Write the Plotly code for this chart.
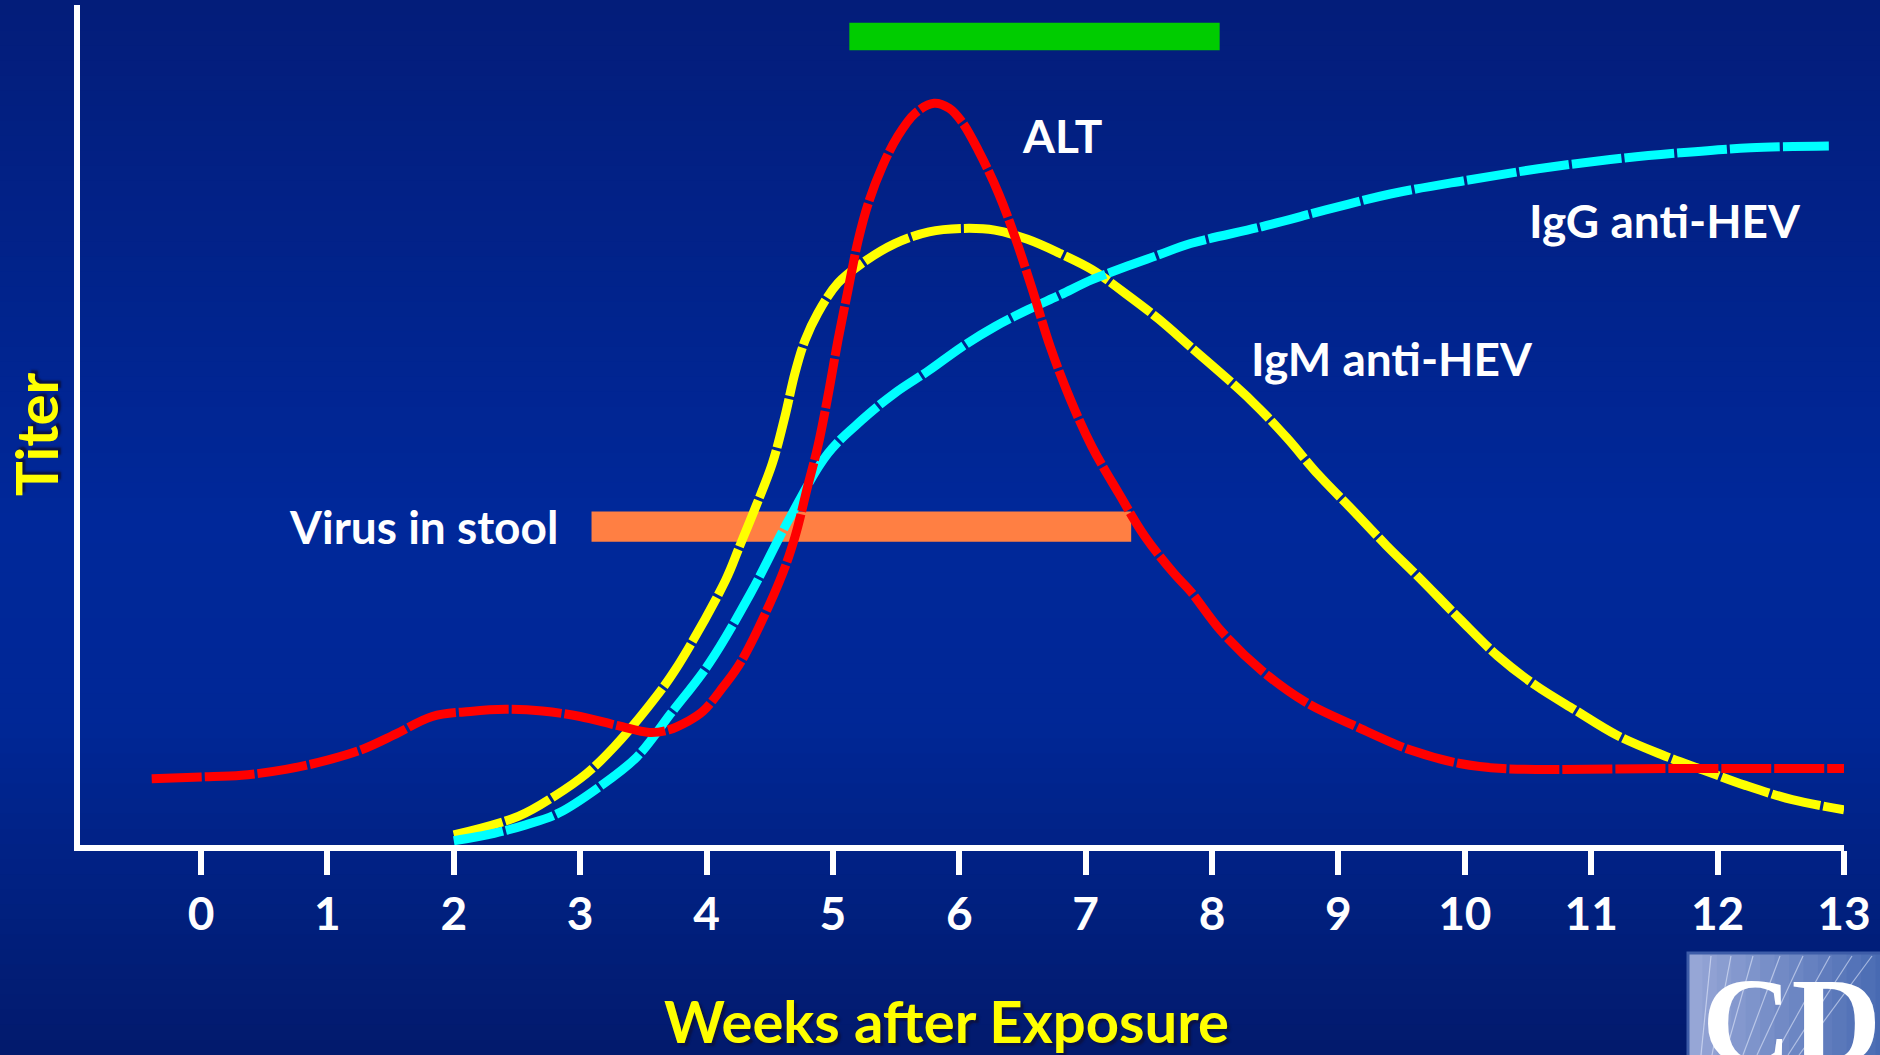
import plotly.graph_objects as go

# ---------------- data ----------------
week_ticks = list(range(0, 14))
week_labels = [str(w) for w in week_ticks]

alt_weeks = [-0.39, 0.0, 0.32, 0.67, 1.0, 1.28, 1.54, 1.83, 2.13, 2.41, 2.70, 3.0, 3.30, 3.55,
             3.70, 3.85, 3.97, 4.13, 4.28, 4.58, 4.70, 4.80, 4.88, 4.96, 5.04, 5.12, 5.20,
             5.28, 5.39, 5.51, 5.65, 5.80, 5.92, 6.02, 6.15, 6.31, 6.44, 6.57, 6.72, 6.88,
             7.05, 7.26, 7.47, 7.70, 7.83, 8.07, 8.39, 8.74, 9.14, 9.57, 9.96, 10.30, 11.6, 13.0]
alt_vals = [7.9, 8.1, 8.3, 9.0, 10.1, 11.4, 13.2, 15.3, 15.9, 16.15, 15.95, 15.3, 14.2, 13.4,
            13.7, 14.7, 15.9, 18.8, 22.0, 31.5, 36.7, 42.7, 47.4, 53.4, 60.1, 66.1, 72.0,
            76.4, 80.75, 84.3, 87.1, 88.3, 87.7, 86.1, 82.7, 77.6, 72.4, 66.5, 59.3, 53.0,
            47.4, 41.9, 36.7, 32.3, 30.2, 25.5, 20.8, 17.0, 14.1, 11.3, 9.7, 9.1, 9.1, 9.1]

igm_weeks = [2.0, 2.51, 2.79, 3.05, 3.27, 3.52, 3.75, 4.15, 4.26, 4.39, 4.52, 4.62,
             4.70, 4.78, 4.88, 5.04, 5.23, 5.49, 5.76, 6.02, 6.28, 6.54, 6.80, 7.05, 7.31,
             7.57, 7.83, 8.31, 8.59, 8.84, 9.12, 9.38, 9.64, 9.96, 10.26, 10.56, 10.88,
             11.20, 11.55, 11.89, 12.22, 12.59, 13.0]
igm_vals = [1.2, 3.4, 5.75, 8.5, 11.7, 16.1, 20.8, 31.5, 35.5, 40.3, 45.4, 51.0,
            56.2, 60.1, 63.3, 66.9, 69.25, 71.6, 73.0, 73.4, 73.2, 72.1, 70.4, 68.5, 65.7,
            62.7, 59.3, 52.9, 48.5, 44.1, 39.75, 35.65, 31.8, 26.9, 22.5, 19.0, 16.0,
            13.1, 10.8, 8.9, 7.1, 5.4, 4.2]

igg_weeks = [2.0, 2.32, 2.57, 2.83, 3.15, 3.45, 3.72, 4.02, 4.35, 4.65, 4.96, 5.23, 5.49,
             5.76, 6.02, 6.28, 6.54, 6.80, 7.05, 7.31, 7.57, 7.83, 8.39, 8.90, 9.41, 10.0,
             10.58, 11.15, 11.70, 12.26, 12.88]
igg_vals = [0.5, 1.4, 2.4, 3.8, 6.9, 10.5, 15.7, 21.6, 30.0, 38.7, 46.6, 50.6, 53.8,
            56.5, 59.3, 61.7, 63.7, 65.5, 67.3, 68.8, 70.2, 71.6, 73.6, 75.6, 77.5, 79.1,
            80.5, 81.6, 82.4, 83.0, 83.2]

virus_weeks = [3.09, 7.36]      # virus in stool (start, end)
virus_titer = [36.1, 39.7]      # band bottom / top
green_weeks = [5.13, 8.06]      # green bar (start, end)
green_titer = [94.6, 97.9]

series_names = ["IgM anti-HEV", "IgG anti-HEV", "ALT"]
label_text = {"ALT": "ALT", "IgG": "IgG anti-HEV", "IgM": "IgM anti-HEV", "virus": "Virus in stool"}
x_title = "Weeks after Exposure"
y_title = "Titer"

# ---------------- styling ----------------
W, H = 1880, 1055
L, R, T, B = 80, 36, 5, 210
PW, PH = W - L - R, H - T - B
FONT = "Lato"
DASH = "50px,3px"
LW = 9
X0_PX = 201                      # pixel of week 0
X_MIN = -(X0_PX - L) / ((W - R - X0_PX) / 13.0)


def px_to_paper(px, py):
    return (px - L) / PW, (H - B - py) / PH


def lerp(c1, c2, t):
    return tuple(round(a + (b - a) * t) for a, b in zip(c1, c2))


fig = go.Figure()

# background gradient (decorative)
stops = [(0, (3, 29, 122)), (520, (0, 40, 154)), (720, (0, 39, 150)), (1055, (2, 26, 108))]
shapes = []
N = 70
for i in range(N):
    y0p = i * H / N
    y1p = (i + 1) * H / N + 1
    ym = (y0p + y1p) / 2
    for (a, ca), (b, cb) in zip(stops[:-1], stops[1:]):
        if a <= ym <= b:
            c = lerp(ca, cb, (ym - a) / (b - a))
            break
    x0, yy0 = px_to_paper(-5, y1p)
    x1, yy1 = px_to_paper(W + 5, y0p)
    shapes.append(dict(type="rect", xref="paper", yref="paper", x0=x0, x1=x1, y0=yy0, y1=yy1,
                       fillcolor="rgb(%d,%d,%d)" % c, line_width=0, layer="below"))

# bars
shapes.append(dict(type="rect", xref="x", yref="y", x0=virus_weeks[0], x1=virus_weeks[1],
                   y0=virus_titer[0], y1=virus_titer[1], fillcolor="#FF7F43", line_width=0,
                   layer="below"))
shapes.append(dict(type="rect", xref="x", yref="y", x0=green_weeks[0], x1=green_weeks[1],
                   y0=green_titer[0], y1=green_titer[1], fillcolor="#00CC00", line_width=0,
                   layer="below"))

# CDC logo box (decorative)
bx0, by0 = px_to_paper(1688, 1062)
bx1, by1 = px_to_paper(1890, 953)
NS = 14
for i in range(NS):
    t = i / (NS - 1)
    c = lerp((150, 166, 214), (72, 106, 178), t)
    xa, _ = px_to_paper(1688 + i * 202 / NS, 0)
    xb, _ = px_to_paper(1688 + (i + 1) * 202 / NS + 1, 0)
    shapes.append(dict(type="rect", xref="paper", yref="paper", x0=xa, x1=xb, y0=by0, y1=by1,
                       fillcolor="rgb(%d,%d,%d)" % c, line_width=0, layer="above"))
shapes.append(dict(type="rect", xref="paper", yref="paper", x0=bx0, x1=bx1, y0=by0, y1=by1,
                   fillcolor="rgba(0,0,0,0)", line=dict(color="#3D5CA8", width=3), layer="above"))
for k, lx in enumerate([1711, 1731, 1753, 1780, 1803, 1830, 1852, 1872]):
    xa, ya = px_to_paper(lx, 956)
    xb, yb = px_to_paper(lx - 10 - k * 9, 1055)
    shapes.append(dict(type="line", xref="paper", yref="paper", x0=xa, y0=ya, x1=xb, y1=yb,
                       line=dict(color="rgba(235,240,255,0.55)", width=1.2), layer="above"))

# curves
fig.add_trace(go.Scatter(x=igm_weeks, y=igm_vals, mode="lines", name=series_names[0],
                         line=dict(color="#FFFF00", width=LW, dash=DASH, shape="spline")))
fig.add_trace(go.Scatter(x=igg_weeks, y=igg_vals, mode="lines", name=series_names[1],
                         line=dict(color="#00FFFF", width=LW, dash=DASH, shape="spline")))
fig.add_trace(go.Scatter(x=alt_weeks, y=alt_vals, mode="lines", name=series_names[2],
                         line=dict(color="#FF0000", width=LW, dash=DASH, shape="spline")))

lab_font = dict(family=FONT, size=46, color="white", weight="bold")
ttl_font = dict(family=FONT, size=58, color="#FFFF00", weight="bold",
                shadow="3px 3px 2px #0A1246")
annotations = [
    dict(x=6.81, y=84.5, xref="x", yref="y", text=label_text["ALT"], showarrow=False,
         xanchor="center", yanchor="middle", font=lab_font),
    dict(x=11.58, y=74.4, xref="x", yref="y", text=label_text["IgG"], showarrow=False,
         xanchor="center", yanchor="middle", font=lab_font),
    dict(x=9.42, y=57.9, xref="x", yref="y", text=label_text["IgM"], showarrow=False,
         xanchor="center", yanchor="middle", font=lab_font),
    dict(x=1.76, y=37.9, xref="x", yref="y", text=label_text["virus"], showarrow=False,
         xanchor="center", yanchor="middle", font=lab_font),
]
tx, ty = px_to_paper(946, 1021)
annotations.append(dict(x=tx, y=ty, xref="paper", yref="paper", text=x_title, showarrow=False,
                        xanchor="center", yanchor="middle", font=ttl_font))
tx, ty = px_to_paper(36, 434)
annotations.append(dict(x=tx, y=ty, xref="paper", yref="paper", text=y_title, showarrow=False,
                        xanchor="center", yanchor="middle", textangle=-90, font=ttl_font))
cx, cy = px_to_paper(1700, 952)
annotations.append(dict(x=cx, y=cy, xref="paper", yref="paper", text="CDC", showarrow=False,
                        xanchor="left", yanchor="top",
                        font=dict(family="Liberation Serif", size=124, color="white",
                                  weight="bold")))

fig.update_layout(
    width=W, height=H,
    margin=dict(l=L, r=R, t=T, b=B, pad=0),
    paper_bgcolor="#00238F",
    plot_bgcolor="rgba(0,0,0,0)",
    showlegend=False,
    shapes=shapes,
    annotations=annotations,
    xaxis=dict(range=[X_MIN, 13.0], tickvals=week_ticks, ticktext=week_labels,
               showgrid=False, zeroline=False, showline=True, linecolor="white", linewidth=6,
               ticks="outside", ticklen=24, tickwidth=6, tickcolor="white",
               ticklabelstandoff=0,
               tickfont=dict(family=FONT, size=46, color="white", weight="bold"),
               fixedrange=True),
    yaxis=dict(range=[0, 100], showgrid=False, zeroline=False, showline=True,
               linecolor="white", linewidth=6, showticklabels=False, ticks="",
               fixedrange=True),
)

fig.write_html("out.html", config={"displayModeBar": False},
               post_script="document.body.style.margin='0';document.body.style.overflow='hidden';")
